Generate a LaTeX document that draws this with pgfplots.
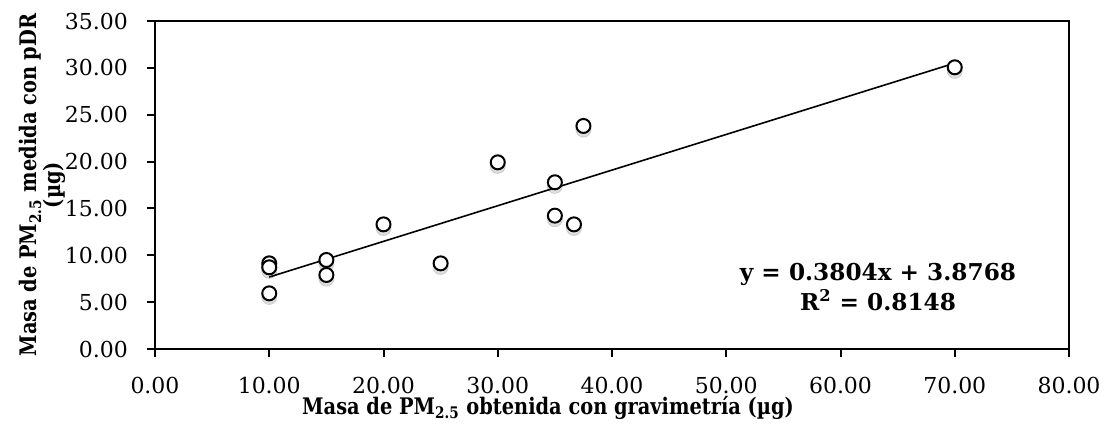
\documentclass[border=0pt]{standalone}
\usepackage{fontspec}
\setmainfont{DejaVu Serif}
\newfontfamily\labelfont[FakeStretch=0.85]{DejaVu Serif}
\usepackage{pgfplots}
\pgfplotsset{compat=1.18}
\begin{document}
\begin{tikzpicture}
\begin{axis}[
  scale only axis,
  width=457pt, height=164pt,
  xmin=0, xmax=80, ymin=0, ymax=35,
  xtick={0,10,...,80}, ytick={0,5,...,35},
  axis line style={line width=1pt},
  tick style={line width=1pt, black},
  major tick length=4pt,
  tick align=outside,
  xtick pos=bottom, ytick pos=left,
  /pgf/number format/assume math mode=true,
  /pgf/number format/.cd, fixed, fixed zerofill, precision=2, /pgfplots/.cd,
  ticklabel style={font=\fontsize{11}{13}\selectfont},
  yticklabel style={xshift=-6pt},
  xticklabel style={yshift=-6.5pt},
  xlabel={Masa de PM\textsubscript{2.5} obtenida con gravimetría (µg)},
  xlabel style={at={(axis description cs:0.43,0)}, anchor=center, yshift=-29.5pt, font=\labelfont\fontsize{11.4}{13}\selectfont\bfseries},
  ylabel={Masa de PM\textsubscript{2.5} medida con pDR\\(µg)},
  ylabel style={at={(axis description cs:-0.123,0.5)}, anchor=center, align=center, font=\labelfont\fontsize{11.4}{12}\selectfont\bfseries},
]
\addplot[only marks, mark=*, mark size=3.8pt, mark options={draw=none, fill=black, opacity=0.13, yshift=-1.8pt}] coordinates {
(10,9.14) (10,8.72) (10,5.94) (15,9.50) (15,7.90) (20,13.30) (25,9.14) (30,19.92) (35,17.79) (35,14.23) (36.67,13.30) (37.5,23.8) (70,30.06)
};
\addplot[black, line width=0.8pt, no marks] coordinates {(10,7.6808) (70,30.5048)};
\addplot[only marks, mark=*, mark size=3.5pt, mark options={draw=black, fill=white, line width=1pt}] coordinates {
(10,9.14) (10,8.72) (10,5.94) (15,9.50) (15,7.90) (20,13.30) (25,9.14) (30,19.92) (35,17.79) (35,14.23) (36.67,13.30) (37.5,23.8) (70,30.06)
};
\node[align=center, font=\fontsize{11.6}{15}\selectfont\bfseries] at (rel axis cs:0.791,0.189) {y = 0.3804x + 3.8768\\R\textsuperscript{2} = 0.8148};
\end{axis}
\pgfresetboundingbox
\path[use as bounding box] ([shift={(-77.5pt,-37.5pt)}]current axis.south west) rectangle ([shift={(17.5pt,10.5pt)}]current axis.north east);
\end{tikzpicture}
\end{document}
